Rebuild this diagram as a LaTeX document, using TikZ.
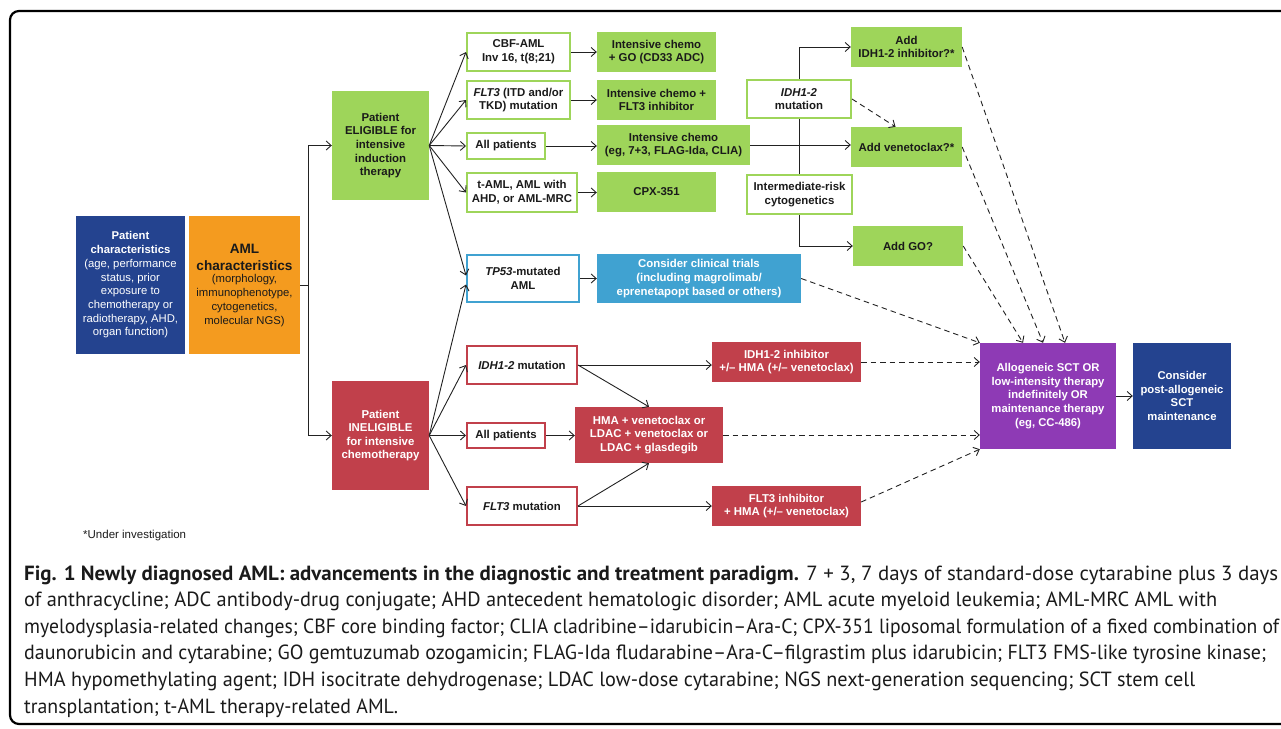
\documentclass[tikz,border=0pt]{standalone}
\usepackage{fontspec}
\usepackage{graphicx}
\setmainfont{Liberation Sans}
\newfontfamily\capfont{PT Sans}
\usetikzlibrary{arrows.meta,backgrounds,calc}
\definecolor{cgreen}{HTML}{9ED55A}
\definecolor{cred}{HTML}{C1404B}
\definecolor{cdblue}{HTML}{24438F}
\definecolor{corange}{HTML}{F49B1F}
\definecolor{clblue}{HTML}{40A2D1}
\definecolor{cpurple}{HTML}{8E3AB5}
\definecolor{cline}{HTML}{222222}
\definecolor{ctext}{HTML}{1A1A1A}
\begin{document}
\begin{tikzpicture}[x=1pt,y=-1pt,
  sz/.style 2 args={minimum width=#1pt, minimum height=#2pt},
  base/.style={inner sep=1pt, align=center, font=\fontsize{11.4}{13.6}\selectfont\bfseries},
  gfill/.style={base, fill=cgreen, text=ctext},
  gline/.style={base, fill=white, draw=cgreen, line width=2.4pt, text=ctext},
  rline/.style={base, fill=white, draw=cred, line width=2.4pt, text=ctext},
  bline/.style={base, fill=white, draw=clblue, line width=2.4pt, text=ctext},
  rfill/.style={base, fill=cred, text=white},
  arr/.style={draw=cline, line width=0.9pt, -{Straight Barb[length=5pt,width=9pt]}},
  darr/.style={arr, dash pattern=on 5.5pt off 4pt},
  captxt/.style={anchor=base west, inner sep=0pt, text=ctext, font=\capfont\fontsize{20.5}{26}\selectfont},
]
\useasboundingbox (0,0) rectangle (1281,728);
\clip (0,0) rectangle (1281,728);
\draw[line width=2.2pt, rounded corners=9pt] (10,11) rectangle (1310,724);

% left
\node[fill=cdblue, text=white, align=center, inner sep=1pt, font=\fontsize{11.3}{13.7}\selectfont, sz={109}{138}] (pc) at (130.5,285)
  {\textbf{Patient}\\\textbf{characteristics}\\(age, performance\\status, prior\\exposure to\\chemotherapy or\\radiotherapy, AHD,\\organ function)};
\node[fill=corange, sz={111}{138}] (amlc) at (244.5,285) {};
\node[align=center, inner sep=0pt, text=ctext, font=\fontsize{13.6}{16.7}\selectfont\bfseries] (amlt) at (244.5,257.5) {AML\\characteristics};
\node[align=center, inner sep=0pt, text=ctext, font=\fontsize{11.3}{14}\selectfont] (amls) at (244.5,301) {(morphology,\\immunophenotype,\\cytogenetics,\\molecular NGS)};

\node[gfill, sz={97}{109}] (elig) at (380.5,145.5) {Patient\\ELIGIBLE for\\intensive\\induction\\therapy};
\node[rfill, sz={97}{109}] (inel) at (380.5,435.5) {Patient\\INELIGIBLE\\for intensive\\chemotherapy};

% second column
\node[gline, sz={102.6}{37.6}] (cbf) at (518.5,52) {CBF-AML\\Inv 16, t(8;21)};
\node[gline, sz={102.6}{37.6}] (flt3a) at (518.5,100) {\textit{FLT3} (ITD and/or\\TKD) mutation};
\node[gline, sz={77.6}{25.6}] (allA) at (506,146) {All patients};
\node[gline, sz={109.6}{38.6}] (taml) at (522,192.5) {t-AML, AML with\\AHD, or AML-MRC};
\node[bline, sz={111.6}{46.6}] (tp53) at (523,278.5) {\textit{TP53}-mutated\\AML};
\node[rline, sz={109.6}{37.6}] (idhB) at (522,365) {\textit{IDH1-2} mutation};
\node[rline, sz={77.6}{24.6}] (allB) at (506,435.5) {All patients};
\node[rline, sz={109.6}{37.6}] (flt3B) at (522,506) {\textit{FLT3} mutation};

% third column
\node[gfill, sz={119}{40}] (go) at (656.5,52) {Intensive chemo\\+ GO (CD33 ADC)};
\node[gfill, sz={119}{40}] (fltinh) at (656.5,100) {Intensive chemo +\\FLT3 inhibitor};
\node[gfill, sz={153}{40}] (ic) at (673.5,145) {Intensive chemo\\(eg, 7+3, FLAG-Ida, CLIA)};
\node[gfill, sz={119}{40}] (cpx) at (656.5,192) {CPX-351};
\node[base, fill=clblue, text=white, sz={204}{49}] (trials) at (699,278.5) {Consider clinical trials\\(including magrolimab/\\eprenetapopt based or others)};
\node[rfill, sz={148}{56}] (hma) at (649,435) {HMA + venetoclax or\\LDAC + venetoclax or\\LDAC + glasdegib};
\node[rfill, sz={149}{40}] (idhinh) at (786.5,362) {IDH1-2 inhibitor\\+/– HMA (+/– venetoclax)};
\node[rfill, sz={149}{40}] (fltinh2) at (786.5,506) {FLT3 inhibitor\\+ HMA (+/– venetoclax)};

% right cluster
\node[gline, sz={103.6}{37.6}] (idhmut) at (799,99) {\textit{IDH1-2}\\mutation};
\node[gline, sz={104.6}{38.6}] (irc) at (799.5,194.5) {Intermediate-risk\\cytogenetics};
\node[gfill, sz={111}{40}] (addidh) at (906.5,47) {Add\\IDH1-2 inhibitor?*};
\node[gfill, sz={111}{40}] (addven) at (906.5,147) {Add venetoclax?*};
\node[gfill, sz={110}{40}] (addgo) at (908,246) {Add GO?};

\node[base, fill=cpurple, text=white, font=\fontsize{11.3}{13.7}\selectfont\bfseries, sz={136}{106}] (allo) at (1048,396) {Allogeneic SCT OR\\low-intensity therapy\\indefinitely OR\\maintenance therapy\\(eg, CC-486)};
\node[base, fill=cdblue, text=white, font=\fontsize{11.3}{13.7}\selectfont\bfseries, sz={98}{106}] (cons) at (1182,396) {Consider\\post-allogeneic\\SCT\\maintenance};

% connectors
\coordinate (split) at (308,285);
\draw[cline, line width=0.9pt] (amlc.east) -- (split);
\draw[arr] (split) |- (elig.west);
\draw[arr] (split) |- (inel.west);

\draw[arr] (elig.east) -- (cbf.west);
\draw[arr] (elig.east) -- (flt3a.west);
\draw[arr] (elig.east) -- (allA.west);
\draw[arr] (elig.east) -- (taml.west);
\draw[arr] (elig.east) -- ([yshift=3pt]tp53.west);
\draw[arr] (inel.east) -- ([yshift=-6pt]tp53.west);
\draw[arr] (inel.east) -- (idhB.west);
\draw[arr] (inel.east) -- (allB.west);
\draw[arr] (inel.east) -- (flt3B.west);

\draw[arr] (cbf.east) -- (go.west);
\draw[arr] (flt3a.east) -- (fltinh.west);
\draw[arr] (allA.east) -- (allA.east -| ic.west);
\draw[arr] (taml.east) -- (taml.east -| cpx.west);
\draw[arr] (tp53.east) -- (tp53.east -| trials.west);
\draw[arr] (idhB.east) -- (idhB.east -| idhinh.west);
\draw[arr] (idhB.east) -- (hma.north);
\draw[arr] (allB.east) -- (allB.east -| hma.west);
\draw[arr] (flt3B.east) -- (hma.south);
\draw[arr] (flt3B.east) -- (fltinh2.west);
\draw[arr] (ic.east) -- (ic.east -| addven.west);

\begin{scope}[on background layer]
\draw[cline, line width=0.9pt, {Straight Barb[length=5pt,width=9pt]}-{Straight Barb[length=5pt,width=9pt]}]
  (addidh.west) -| (idhmut.center) |- (addgo.west);
\end{scope}
\draw[darr] (idhmut.east) -- ([xshift=-11pt]addven.north);

\draw[darr] (addidh.east) -- ([xshift=17pt]allo.north);
\draw[darr] (addven.east) -- ([xshift=-5pt]allo.north);
\draw[darr] (addgo.east) -- ([xshift=-25pt]allo.north);
\draw[darr] (trials.east) -- (allo.north west);
\draw[darr] (idhinh.east) -- (idhinh.east -| allo.west);
\draw[darr] (hma.east) -- (hma.east -| allo.west);
\draw[darr] ([yshift=4pt]fltinh2.east) -- (allo.south west);
\draw[arr] (allo.east) -- (cons.west);

% caption
\node[anchor=base west, inner sep=0pt, text=ctext, font=\fontsize{11.5}{13}\selectfont] (note) at (83,538) {*Under investigation};
\node[captxt] (c1) at (24,580) {\resizebox{1254pt}{\height}{\textbf{Fig. 1 Newly diagnosed AML: advancements in the diagnostic and treatment paradigm.} 7 + 3, 7 days of standard-dose cytarabine plus 3 days}};
\node[captxt] (c2) at (24,606.6) {\resizebox{1193pt}{\height}{of anthracycline; ADC antibody-drug conjugate; AHD antecedent hematologic disorder; AML acute myeloid leukemia; AML-MRC AML with}};
\node[captxt] (c3) at (24,633.2) {\resizebox{1255pt}{\height}{myelodysplasia-related changes; CBF core binding factor; CLIA cladribine–idarubicin–Ara-C; CPX-351 liposomal formulation of a fixed combination of}};
\node[captxt] (c4) at (24,659.8) {\resizebox{1242pt}{\height}{daunorubicin and cytarabine; GO gemtuzumab ozogamicin; FLAG-Ida fludarabine–Ara-C–filgrastim plus idarubicin; FLT3 FMS-like tyrosine kinase;}};
\node[captxt] (c5) at (24,686.4) {\resizebox{1171pt}{\height}{HMA hypomethylating agent; IDH isocitrate dehydrogenase; LDAC low-dose cytarabine; NGS next-generation sequencing; SCT stem cell}};
\node[captxt] (c6) at (24,713) {\resizebox{374pt}{\height}{transplantation; t-AML therapy-related AML.}};
\end{tikzpicture}
\end{document}
